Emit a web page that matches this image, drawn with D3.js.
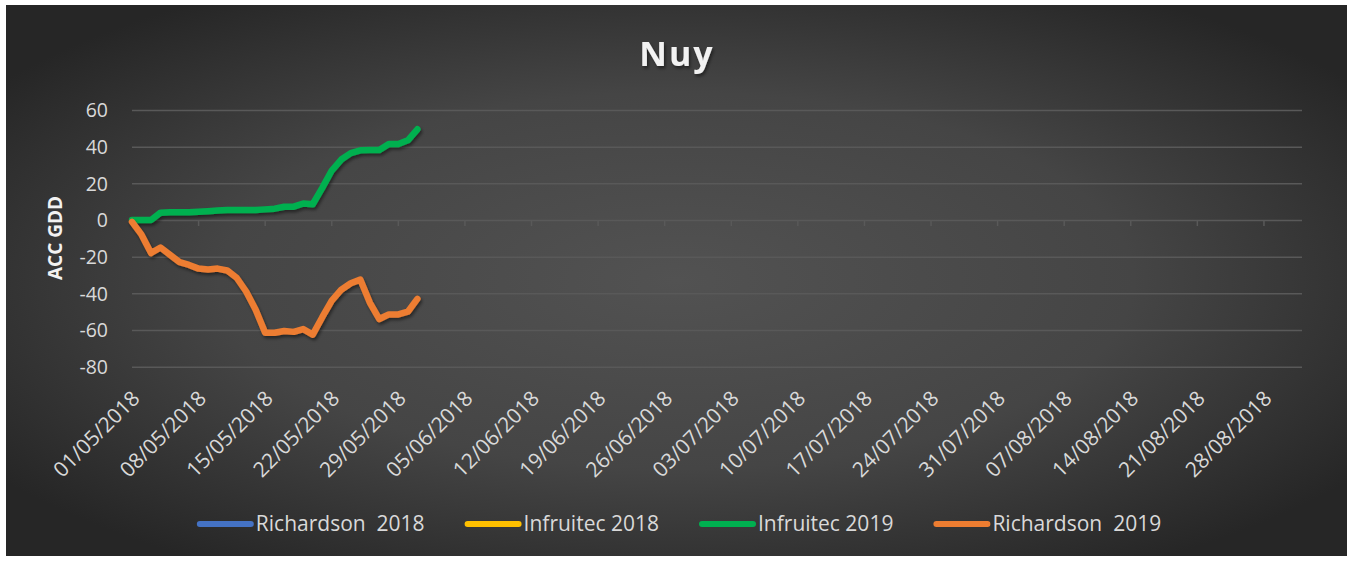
<!DOCTYPE html>
<html>
<head>
<meta charset="utf-8">
<script src="https://cdn.jsdelivr.net/npm/d3@7"></script>
<style>
  body { margin: 0; background: #ffffff; }
  text { font-family: "Open Sans", sans-serif; }
</style>
</head>
<body>
<div class="chart_wrapper"></div>
<script>

// data

const days = [
  "2018-05-01","2018-05-02","2018-05-03","2018-05-04","2018-05-05","2018-05-06","2018-05-07","2018-05-08",
  "2018-05-09","2018-05-10","2018-05-11","2018-05-12","2018-05-13","2018-05-14","2018-05-15","2018-05-16",
  "2018-05-17","2018-05-18","2018-05-19","2018-05-20","2018-05-21","2018-05-22","2018-05-23","2018-05-24",
  "2018-05-25","2018-05-26","2018-05-27","2018-05-28","2018-05-29","2018-05-30","2018-05-31"
]

const richardson2018 = []
const infruitec2018 = []
const infruitec2019 = [0, 0, 0, 4, 4.2, 4.2, 4.3, 4.5, 4.8, 5.2, 5.5, 5.5, 5.5, 5.5, 5.8, 6.2,
  7.2, 7.3, 9, 8.6, 17.5, 27, 33, 36.5, 38, 38.2, 38.2, 41.5, 41.5, 43.5, 49.5]
const richardson2019 = [-1, -8, -18, -15, -19, -23, -24.5, -26.5, -27, -26.5, -27.5, -31.5, -39, -49, -61.5, -61.5,
  -60.5, -61, -59.5, -62.5, -53, -44, -38, -34.5, -32.5, -45, -54, -51.5, -51.5, -50, -43]

const seriesNames = ["Richardson  2018", "Infruitec 2018", "Infruitec 2019", "Richardson  2019"]
const seriesColors = ["#4472c4", "#ffc000", "#00b050", "#ed7d31"]

const xTickLabels = ["01/05/2018","08/05/2018","15/05/2018","22/05/2018","29/05/2018","05/06/2018",
  "12/06/2018","19/06/2018","26/06/2018","03/07/2018","10/07/2018","17/07/2018","24/07/2018",
  "31/07/2018","07/08/2018","14/08/2018","21/08/2018","28/08/2018"]
const yTicks = [60, 40, 20, 0, -20, -40, -60, -80]

const parseDay = d3.timeParse("%Y-%m-%d")
const parseLabel = d3.timeParse("%d/%m/%Y")

const series = [richardson2018, infruitec2018, infruitec2019, richardson2019].map((vals, i) => ({
  name: seriesNames[i],
  color: seriesColors[i],
  values: vals.map((v, j) => ({ date: parseDay(days[j]), value: v }))
}))

const xAccessor = d => d.date
const yAccessor = d => d.value

// draw canvas

let dimensions = {
  width: 1350,
  height: 561,
  margin: { top: 110, right: 48, bottom: 194.3, left: 132 },
}
dimensions.boundedWidth = dimensions.width - dimensions.margin.left - dimensions.margin.right
dimensions.boundedHeight = dimensions.height - dimensions.margin.top - dimensions.margin.bottom

const wrapper = d3.select(".chart_wrapper")
  .append("svg")
    .attr("width", dimensions.width)
    .attr("height", dimensions.height)

const defs = wrapper.append("defs")

const bg = defs.append("radialGradient")
    .attr("id", "bg_grad")
    .attr("cx", "50%").attr("cy", "50%").attr("r", "62%")
bg.append("stop").attr("offset", "0%").attr("stop-color", "#525252")
bg.append("stop").attr("offset", "55%").attr("stop-color", "#454545")
bg.append("stop").attr("offset", "100%").attr("stop-color", "#262626")

const shadow = defs.append("filter")
    .attr("id", "line_shadow")
    .attr("x", "-10%").attr("y", "-10%").attr("width", "120%").attr("height", "130%")
shadow.append("feDropShadow")
    .attr("dx", 1.5).attr("dy", 2.5).attr("stdDeviation", 1.8)
    .attr("flood-color", "#000").attr("flood-opacity", 0.45)

wrapper.append("rect")
    .attr("x", 6).attr("y", 5)
    .attr("width", 1341).attr("height", 551)
    .attr("fill", "url(#bg_grad)")

const bounds = wrapper.append("g")
    .attr("transform", `translate(${dimensions.margin.left}, ${dimensions.margin.top})`)

// scales

const xScale = d3.scaleTime()
  .domain([parseDay("2018-05-01"), parseDay("2018-09-01")])
  .range([0, dimensions.boundedWidth])

const yScale = d3.scaleLinear()
  .domain([-80, 60])
  .range([dimensions.boundedHeight, 0])

// gridlines

const yAxisGenerator = d3.axisLeft(yScale)
  .tickValues(yTicks)
  .tickSize(-dimensions.boundedWidth)
  .tickPadding(24)
  .tickFormat(d => String(d))

const yAxis = bounds.append("g")
  .call(yAxisGenerator)
yAxis.select(".domain").remove()
yAxis.selectAll("line")
  .attr("stroke", "#595959")
  .attr("stroke-width", 1.5)
yAxis.selectAll("text")
  .attr("fill", "#d9d9d9")
  .style("font-size", "19.5px")
  .attr("dy", "0.35em")

// x axis on the zero line, labels low

const xTickDates = xTickLabels.map(parseLabel)

bounds.append("g")
  .attr("transform", `translate(0, ${yScale(0)})`)
  .selectAll("line")
  .data(xTickDates)
  .join("line")
    .attr("x1", d => xScale(d)).attr("x2", d => xScale(d))
    .attr("y1", 0).attr("y2", 6)
    .attr("stroke", "#595959")
    .attr("stroke-width", 1.5)

bounds.append("g")
  .selectAll("text")
  .data(xTickDates)
  .join("text")
    .attr("transform", d => `translate(${xScale(d) + 9}, ${dimensions.boundedHeight + 33}) rotate(-45)`)
    .attr("text-anchor", "end")
    .attr("fill", "#d9d9d9")
    .style("font-size", "21px")
    .text(d => d3.timeFormat("%d/%m/%Y")(d))

// lines

const lineGenerator = d3.line()
  .x(d => xScale(xAccessor(d)))
  .y(d => yScale(yAccessor(d)))

bounds.append("g")
  .selectAll("path")
  .data(series.filter(s => s.values.length))
  .join("path")
    .attr("d", d => lineGenerator(d.values))
    .attr("fill", "none")
    .attr("stroke", d => d.color)
    .attr("stroke-width", 6.5)
    .attr("stroke-linejoin", "round")
    .attr("stroke-linecap", "round")
    .attr("filter", "url(#line_shadow)")

// title and axis label

wrapper.append("text")
  .attr("x", 677)
  .attr("y", 66)
  .attr("text-anchor", "middle")
  .attr("fill", "#f2f2f2")
  .attr("filter", "url(#line_shadow)")
  .style("font-size", "34px")
  .style("font-weight", "bold")
  .style("letter-spacing", "2px")
  .text("Nuy")

wrapper.append("text")
  .attr("transform", `translate(62, 238) rotate(-90)`)
  .attr("text-anchor", "middle")
  .attr("fill", "#f2f2f2")
  .style("font-size", "19px")
  .style("font-weight", "bold")
  .text("ACC GDD")

// legend

const legend = wrapper.append("g")
const legendItems = legend.selectAll("g")
  .data(series)
  .join("g")

legendItems.append("line")
  .attr("x1", 3).attr("x2", 54)
  .attr("y1", 0).attr("y2", 0)
  .attr("stroke", d => d.color)
  .attr("stroke-width", 6)
  .attr("stroke-linecap", "round")

legendItems.append("text")
  .attr("x", 59)
  .attr("y", 7)
  .attr("fill", "#d9d9d9")
  .style("font-size", "21px")
  .style("white-space", "pre")
  .text(d => d.name)

let cursor = 0
legendItems.each(function() {
  const w = 59 + d3.select(this).select("text").node().getComputedTextLength()
  d3.select(this).attr("transform", `translate(${cursor}, 0)`)
  cursor += w + 40
})
const legendWidth = cursor - 40
legend.attr("transform", `translate(${679 - legendWidth / 2}, 524)`)

</script>
</body>
</html>
